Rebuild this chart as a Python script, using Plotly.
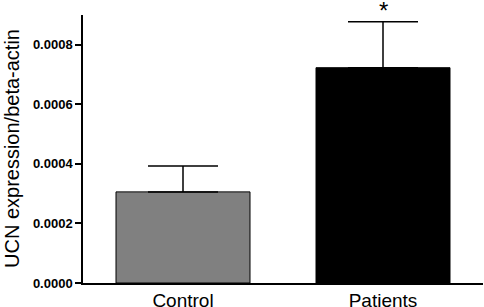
import plotly.graph_objects as go

categories = ["Control", "Patients"]
means = [0.000306, 0.000723]
sem = [0.000087, 0.000154]
bar_colors = ["#808080", "#000000"]
y_ticks = [0.0, 0.0002, 0.0004, 0.0006, 0.0008]
y_title = "UCN expression/beta-actin"
sig_label = "*"

FONT = "Arial, 'Liberation Sans', sans-serif"

fig = go.Figure()
fig.add_trace(go.Bar(
    x=categories,
    y=means,
    width=0.67,
    marker=dict(color=bar_colors, line=dict(color="#000000", width=1)),
    error_y=dict(type="data", symmetric=False, array=sem, arrayminus=[0, 0],
                 color="#000000", thickness=1.5, width=35),
    showlegend=False,
))

fig.add_annotation(x=categories[1], y=means[1] + sem[1], text=sig_label,
                   showarrow=False, yanchor="bottom", yshift=-4,
                   font=dict(family=FONT, size=24, color="#000000"))

# rotated y-axis title
fig.add_annotation(x=0, xref="paper", xshift=-71, y=0.5, yref="paper",
                   text=y_title, textangle=-90, showarrow=False,
                   xanchor="center", yanchor="middle",
                   font=dict(family=FONT, size=20, color="#000000"))

fig.update_layout(
    template="none",
    width=484, height=307,
    margin=dict(l=83, r=1, t=15, b=24, autoexpand=False),
    paper_bgcolor="white", plot_bgcolor="white",
    bargap=0.33,
    font=dict(family=FONT, color="#000000"),
)
fig.update_xaxes(
    range=[-0.5, 1.5], showline=True, linecolor="#000000", linewidth=1.5,
    ticks="", ticklabelstandoff=-1, automargin=False,
    tickfont=dict(family=FONT, size=19, color="#000000"),
    showgrid=False, zeroline=False,
)
fig.update_yaxes(
    range=[0, 0.0009], tickvals=y_ticks, tickformat=".4f", automargin=False,
    showline=True, linecolor="#000000", linewidth=1.5,
    ticks="outside", ticklen=6, tickwidth=1.5, tickcolor="#000000",
    tickfont=dict(family=FONT, size=13, color="#000000", weight="bold"),
    showgrid=False, zeroline=False,
)

fig.write_html("out.html", config={"displayModeBar": False},
               post_script="document.body.style.margin='0px';")
